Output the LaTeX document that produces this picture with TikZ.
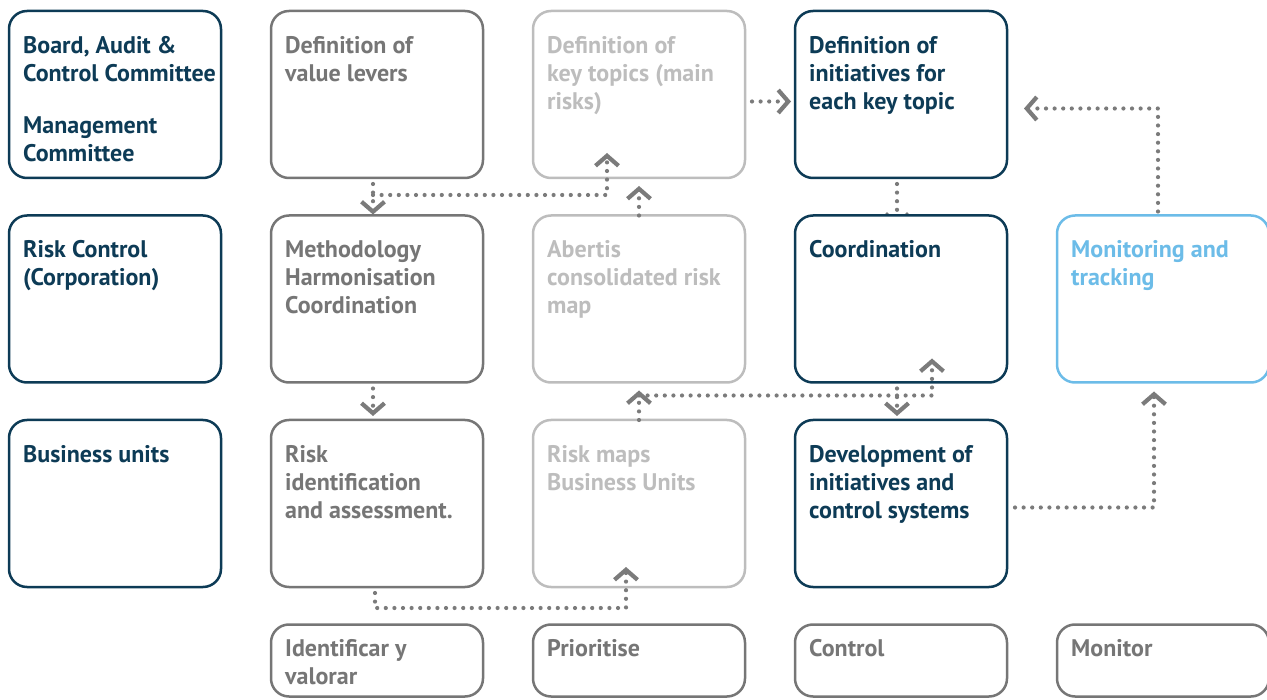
\documentclass[tikz,border=0pt]{standalone}
\usepackage{fontspec}
\setmainfont{PT Sans}
\usetikzlibrary{arrows.meta, positioning, backgrounds}

\definecolor{navy}{HTML}{0D3B56}
\definecolor{midgrey}{HTML}{767676}
\definecolor{palegrey}{HTML}{BDBDBD}
\definecolor{sky}{HTML}{6CBCE8}
\definecolor{linkgrey}{HTML}{7B7B7B}

\begin{document}
\begin{tikzpicture}[x=1pt, y=1pt, node distance=37.5pt and 50pt,
  box/.style={draw, fill=white, rounded corners=18pt, line width=2.5pt, outer sep=0pt,
    inner sep=0pt, minimum width=212pt, minimum height=167pt},
  lowbox/.style={box, minimum height=72pt},
  boxtext/.style={align=left, inner sep=0pt, font=\bfseries\fontsize{24}{28}\selectfont},
  link/.style={draw=linkgrey, line width=4.2pt, line cap=round, dash pattern=on 0pt off 8.6pt},
  chev/.style={-{Straight Barb[length=10pt, width=23pt]}}]

  \useasboundingbox (0,0) rectangle (1267,-700);

  \node[box, draw=navy, anchor=north west] (board) at (9,-11) {};
  \node[box, draw=midgrey] (levers) [right=of board] {};
  \node[box, draw=palegrey] (topics) [right=of levers] {};
  \node[box, draw=navy] (initiatives) [right=of topics] {};

  \node[box, draw=navy] (riskctrl) [below=of board] {};
  \node[box, draw=midgrey] (method) [below=of levers] {};
  \node[box, draw=palegrey] (riskmap) [below=of topics] {};
  \node[box, draw=navy] (coord) [below=of initiatives] {};
  \node[box, draw=sky] (monitoring) [right=of coord] {};

  \node[box, draw=navy] (units) [below=of riskctrl] {};
  \node[box, draw=midgrey] (identify) [below=of method] {};
  \node[box, draw=palegrey] (bumaps) [below=of riskmap] {};
  \node[box, draw=navy] (develop) [below=of coord] {};

  \node[lowbox, draw=midgrey] (ident) [below=of identify] {};
  \node[lowbox, draw=midgrey] (prior) [below=of bumaps] {};
  \node[lowbox, draw=midgrey] (control) [below=of develop] {};
  \node[lowbox, draw=midgrey] (monitor) [right=of control] {};

  % texts
  \node[boxtext, text=navy, below right=25pt and 14pt of board.north west] (t-board)
    {Board, Audit \&\\Control Committee\\[24pt]Management\\Committee};
  \node[boxtext, text=midgrey, below right=25pt and 14pt of levers.north west] (t-levers)
    {Definition of\\value levers};
  \node[boxtext, text=palegrey, below right=25pt and 14pt of topics.north west] (t-topics)
    {Definition of\\key topics (main\\risks)};
  \node[boxtext, text=navy, below right=25pt and 14pt of initiatives.north west] (t-initiatives)
    {Definition of\\initiatives for\\each key topic};
  \node[boxtext, text=navy, below right=25pt and 14pt of riskctrl.north west] (t-riskctrl)
    {Risk Control\\(Corporation)};
  \node[boxtext, text=midgrey, below right=25pt and 14pt of method.north west] (t-method)
    {Methodology\\Harmonisation\\Coordination};
  \node[boxtext, text=palegrey, below right=25pt and 14pt of riskmap.north west] (t-riskmap)
    {Abertis\\consolidated risk\\map};
  \node[boxtext, text=navy, below right=25pt and 14pt of coord.north west] (t-coord)
    {Coordination};
  \node[boxtext, text=sky, below right=25pt and 14pt of monitoring.north west] (t-monitoring)
    {Monitoring and\\tracking};
  \node[boxtext, text=navy, below right=25pt and 14pt of units.north west] (t-units)
    {Business units};
  \node[boxtext, text=midgrey, below right=25pt and 14pt of identify.north west] (t-identify)
    {Risk\\identification\\and assessment.};
  \node[boxtext, text=palegrey, below right=25pt and 14pt of bumaps.north west] (t-bumaps)
    {Risk maps\\Business Units};
  \node[boxtext, text=navy, below right=25pt and 14pt of develop.north west] (t-develop)
    {Development of\\initiatives and\\control systems};
  \node[boxtext, text=midgrey, below right=15pt and 14pt of ident.north west] (t-ident)
    {Identificar y\\valorar};
  \node[boxtext, text=midgrey, below right=15pt and 14pt of prior.north west] (t-prior)
    {Prioritise};
  \node[boxtext, text=midgrey, below right=15pt and 14pt of control.north west] (t-control)
    {Control};
  \node[boxtext, text=midgrey, below right=15pt and 14pt of monitor.north west] (t-monitor)
    {Monitor};

  % links
  \begin{scope}[on background layer]
    \draw[link, chev, shorten <=6pt, shorten >=-11pt] ([xshift=-4pt]initiatives.south) -- ([xshift=-4pt]coord.north);
  \end{scope}

  \coordinate (fork1) at ([shift={(-4pt,-17pt)}]levers.south);
  \coordinate (fork2) at ([yshift=-13pt]riskmap.south);
  \coordinate (fork3) at ([shift={(-2pt,-21pt)}]identify.south);

  \draw[link, chev, shorten <=6pt, shorten >=1pt] ([xshift=-4pt]levers.south) -- ([xshift=-4pt]method.north);
  \draw[link, chev] (fork1) -| ([shift={(-32pt,25pt)}]topics.south);
  \draw[link, chev, shorten >=8pt] (riskmap.north) -- (topics.south);
  \draw[link, chev, shorten <=7pt, shorten >=4pt] ([yshift=-7pt]topics.east) -- ([yshift=-7pt]initiatives.west);
  \draw[link, chev, shorten <=4pt, shorten >=17pt] ([xshift=-5pt]monitoring.north) |- ([yshift=-14pt]initiatives.east);

  \draw[link, chev, shorten <=6pt, shorten >=4pt] ([xshift=-4pt]method.south) -- ([xshift=-4pt]identify.north);
  \draw[link, chev, shorten >=8pt] (bumaps.north) -- (riskmap.south);
  \draw[link, chev] (fork2) -| ([shift={(31pt,24pt)}]coord.south);
  \draw[link, chev, shorten <=6pt, shorten >=4pt] ([xshift=-4pt]coord.south) -- ([xshift=-4pt]develop.north);
  \draw[link, chev, shorten <=8pt, shorten >=9pt] ([yshift=-4pt]develop.east) -| ([xshift=-9pt]monitoring.south);

  \draw[link, chev, shorten <=6pt] ([xshift=-2pt]identify.south) -- (fork3) -| ([shift={(-13pt,20pt)}]bumaps.south);
\end{tikzpicture}
\end{document}
